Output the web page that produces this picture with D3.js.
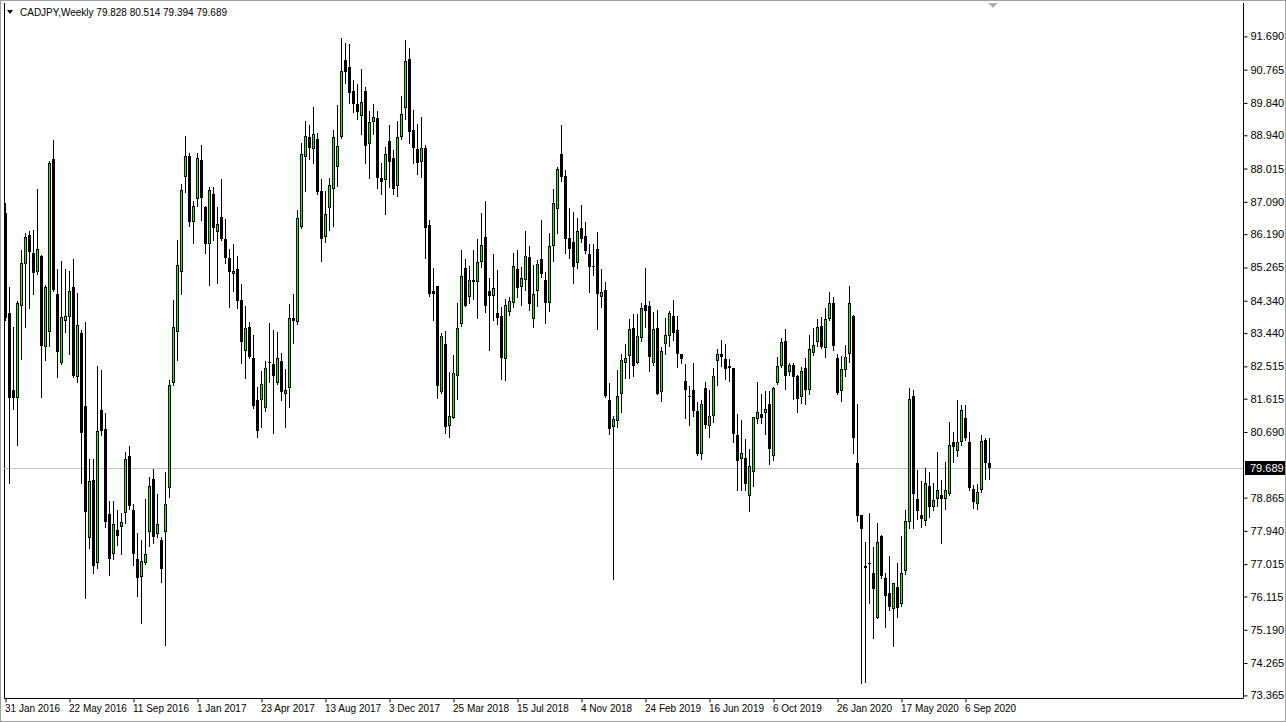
<!DOCTYPE html>
<html><head><meta charset="utf-8">
<script src="https://cdn.jsdelivr.net/npm/d3@7"></script>
<style>
html,body{margin:0;padding:0;background:#fff;}
svg{display:block;font-family:"Liberation Sans",Arial,sans-serif;}
</style></head><body><svg id="c" width="1286" height="722"></svg>
<script>
const symbol = "CADJPY,Weekly";
const firstWeek = "31 Jan 2016";
const open = [86.77,84.00,81.87,81.64,84.20,85.35,86.16,85.66,85.13,85.58,
83.04,83.48,88.27,84.54,82.60,83.78,83.89,84.72,82.23,83.45,
81.41,77.73,79.35,77.06,81.30,80.77,78.41,77.31,77.96,78.04,
78.43,80.02,78.52,77.15,76.65,77.06,77.90,79.38,77.84,77.68,
77.90,79.12,82.06,83.48,85.14,87.79,88.36,86.53,87.16,88.25,
86.95,85.93,87.31,86.24,86.66,86.07,85.54,85.09,85.22,84.36,
82.95,83.60,82.76,81.58,81.58,81.37,82.61,82.57,82.04,82.66,
81.74,81.90,83.85,83.75,86.38,88.33,88.88,88.56,88.83,87.39,
86.10,86.91,87.46,88.06,88.90,91.03,90.83,90.17,89.81,89.48,
90.17,88.69,89.30,89.41,87.74,87.71,88.78,88.30,87.54,88.90,
89.70,91.05,89.09,88.56,88.19,88.58,86.44,84.61,84.75,81.79,
83.15,80.85,81.08,82.25,83.68,85.24,84.43,84.91,84.87,85.42,
86.12,84.61,84.48,84.00,83.91,82.71,84.03,84.27,85.22,84.73,
84.93,85.56,83.82,84.62,85.49,84.91,84.28,85.87,86.88,88.42,
87.81,86.09,85.96,85.39,86.35,86.14,85.64,85.30,85.79,84.43,
84.65,81.58,80.82,81.00,81.74,82.62,82.81,83.57,82.62,83.29,
84.22,84.19,82.62,83.57,81.81,83.13,83.36,83.91,83.52,82.85,
82.10,81.70,81.85,81.27,80.07,81.90,80.86,81.14,82.67,82.87,
82.72,82.46,82.46,80.60,79.93,79.96,78.91,79.57,81.05,81.19,
81.21,81.47,80.02,82.04,82.52,83.22,82.35,82.55,82.24,81.67,
82.46,81.87,82.89,83.18,83.64,83.02,83.82,84.28,82.74,81.83,
82.41,82.85,83.91,79.84,78.38,76.97,77.04,76.76,75.53,77.79,
76.62,76.20,75.76,76.37,75.92,76.82,78.19,81.69,78.82,78.38,
78.21,79.19,78.61,78.82,78.94,78.82,78.96,80.42,80.17,80.40,
81.09,80.40,79.10,78.68,79.07,80.48,79.828];
const high = [87.05,84.73,83.61,84.33,85.75,86.23,86.28,86.30,87.46,85.60,
84.77,88.23,88.81,85.21,85.44,85.21,85.16,85.50,84.56,83.52,
83.75,79.93,79.93,82.52,82.41,81.21,78.77,78.77,78.52,78.43,
80.14,80.30,78.68,77.87,77.70,78.84,79.44,79.66,78.96,77.77,
79.58,82.13,84.36,86.03,87.58,88.92,88.44,87.12,88.44,88.67,
86.97,87.49,87.50,86.95,87.72,86.60,85.79,85.91,85.58,84.80,
84.19,83.74,83.38,81.93,82.38,82.66,83.71,83.52,83.46,82.89,
82.44,84.25,84.54,86.86,88.72,89.34,89.24,89.72,88.99,87.72,
87.39,87.76,89.08,89.78,91.64,91.50,91.48,90.48,90.36,90.77,
90.29,89.61,89.80,89.61,88.18,88.62,89.24,88.53,89.34,90.04,
91.59,91.38,89.64,89.25,89.44,88.67,86.58,85.24,84.76,83.45,
83.50,82.36,82.83,84.28,85.75,85.49,85.31,85.75,86.05,86.79,
87.11,84.96,85.64,85.19,84.17,84.38,84.45,85.66,85.75,85.28,
86.28,85.86,85.33,85.47,86.58,85.13,86.21,87.44,88.06,89.23,
87.97,86.91,86.81,86.63,87.00,86.52,85.93,85.91,86.24,85.22,
84.85,82.04,81.13,82.41,82.87,83.15,83.83,83.97,83.97,84.28,
85.24,84.33,84.03,84.08,83.04,83.87,84.06,84.36,83.91,82.86,
82.58,81.97,82.60,81.53,81.58,82.07,81.85,82.46,83.01,83.25,
83.13,82.72,82.47,81.19,81.02,80.49,80.23,81.11,82.09,81.74,
81.83,81.83,81.93,82.78,83.29,83.54,82.60,82.61,82.27,82.49,
82.74,83.38,83.57,83.82,83.89,84.14,84.57,84.45,82.86,82.80,
83.11,84.75,83.94,81.47,78.39,77.62,78.45,77.50,78.15,77.82,
76.78,77.24,76.49,77.04,77.79,78.52,81.92,81.85,79.63,79.32,
79.68,79.58,79.26,80.14,79.35,79.86,80.98,80.70,81.58,81.44,
81.44,80.68,79.21,79.23,80.61,80.51,80.514];
const low = [83.80,79.26,81.34,80.32,82.72,83.61,84.14,84.52,85.08,81.67,
82.69,83.08,84.62,82.22,82.58,83.48,82.87,82.22,82.09,79.28,
76.06,77.45,76.76,76.90,80.60,78.05,76.71,77.17,77.54,77.31,
78.16,78.54,76.99,76.13,75.37,77.03,77.52,77.59,77.76,76.51,
74.76,78.89,81.99,82.69,84.52,87.37,86.41,85.95,86.97,86.58,
85.66,84.77,86.03,84.84,86.03,85.39,84.17,84.62,84.15,82.61,
82.20,82.74,81.36,80.56,80.83,81.28,82.07,80.65,82.02,81.58,
80.83,81.39,83.17,83.69,86.36,87.40,88.27,88.18,87.30,85.45,
85.98,86.32,86.42,87.54,88.87,90.40,89.83,89.59,89.38,88.97,
88.18,87.76,88.97,87.48,87.32,86.74,87.49,87.32,87.26,88.85,
89.38,88.73,88.18,87.86,87.79,85.54,84.47,83.80,81.64,81.78,
80.65,80.54,81.07,81.62,83.64,84.19,84.28,84.40,83.87,85.28,
84.02,82.97,83.80,83.69,82.16,82.13,83.94,84.17,84.45,84.22,
84.64,84.08,83.61,84.19,85.01,83.73,84.06,85.44,86.21,87.68,
85.67,85.54,84.84,85.26,85.98,85.66,84.59,85.05,83.54,84.17,
81.65,80.63,76.60,80.83,81.25,82.20,82.18,82.25,82.60,83.23,
83.61,82.39,82.55,81.75,81.56,82.86,83.08,83.26,82.49,82.60,
81.08,80.88,81.14,80.06,79.94,80.81,80.56,80.97,81.99,82.52,
82.16,82.11,80.42,79.09,79.09,79.09,78.49,79.19,80.93,80.93,
80.63,79.79,79.91,82.03,82.50,81.88,82.27,81.60,81.25,81.50,
81.48,81.76,82.83,83.09,83.02,82.78,83.80,82.97,81.74,81.56,
82.25,82.64,80.11,78.22,73.72,73.74,75.94,74.95,75.52,76.62,
75.27,75.74,74.74,75.55,75.86,76.73,78.01,78.01,78.26,78.05,
78.10,78.32,78.52,78.64,77.59,78.55,78.93,79.86,80.03,80.34,
80.48,79.09,78.57,78.55,79.03,79.37,79.394];
const close = [83.85,81.64,81.64,84.29,85.38,86.10,85.70,85.12,85.78,83.09,
84.71,88.16,84.64,82.92,83.88,83.91,84.60,82.24,83.66,80.67,
78.47,79.32,76.97,80.71,80.71,78.19,77.17,78.12,77.80,78.18,
79.93,78.63,77.31,76.62,77.10,77.31,79.20,77.76,78.12,76.87,
78.68,82.01,83.60,85.32,87.41,88.36,86.53,86.97,88.30,87.20,
85.93,87.41,86.37,86.46,86.05,85.53,85.14,85.16,84.34,83.18,
83.57,82.78,81.42,80.72,82.02,82.46,82.63,82.25,82.74,81.81,
81.85,83.85,83.78,86.63,88.41,88.93,88.58,88.97,87.37,86.05,
86.74,87.57,88.88,88.64,90.74,90.71,90.12,89.80,89.59,89.86,
88.65,89.30,89.44,87.74,87.65,88.41,88.20,87.44,88.90,89.52,
91.00,89.04,88.60,88.16,88.58,86.37,84.52,84.54,81.97,83.36,
80.82,81.13,82.32,83.57,85.02,84.20,84.91,84.86,85.41,85.89,
84.20,84.48,84.68,83.87,82.75,84.22,84.33,85.30,84.68,84.96,
85.58,84.24,84.54,85.35,85.07,84.27,85.87,87.07,87.99,87.79,
86.07,85.79,85.28,86.28,86.05,85.72,85.28,85.29,84.52,84.59,
81.69,80.76,81.04,81.69,82.69,82.76,83.54,82.53,83.36,84.15,
84.06,82.78,83.54,81.76,82.94,83.38,83.99,83.45,82.86,82.72,
81.85,81.69,81.27,80.07,81.46,80.88,81.13,82.24,82.87,82.78,
82.43,82.52,80.63,79.89,80.10,79.23,79.74,81.10,81.25,81.07,
81.34,80.21,81.90,82.52,83.18,82.25,82.55,82.22,81.62,82.38,
81.87,82.99,83.11,83.60,83.06,83.82,84.27,83.09,81.78,82.43,
82.78,84.27,80.53,78.36,77.98,76.92,77.03,76.31,77.62,76.68,
76.13,75.83,76.48,75.80,76.78,78.21,81.62,78.96,78.50,78.26,
79.26,78.61,78.80,79.08,78.82,79.09,80.33,80.26,80.40,81.30,
80.51,79.12,78.75,79.03,80.45,79.82,79.689];
const yTickValues = [91.690,90.765,89.840,88.940,88.015,87.090,86.190,85.265,84.340,83.440,82.515,81.615,80.690,78.865,77.940,77.015,76.115,75.190,74.265,73.365];
const xTickLabels = ["31 Jan 2016","22 May 2016","11 Sep 2016","1 Jan 2017","23 Apr 2017","13 Aug 2017","3 Dec 2017","25 Mar 2018","15 Jul 2018","4 Nov 2018","24 Feb 2019","16 Jun 2019","6 Oct 2019","26 Jan 2020","17 May 2020","6 Sep 2020"];

const n = Math.min(open.length, high.length, low.length, close.length);
const bars = d3.range(n).map(i => ({i, o:open[i], h:high[i], l:low[i], c:close[i]}));
const last = bars[n-1];
const fmt = d3.format(".3f");

const svg = d3.select("#c");
const plot = {left:4, right:1243, top:3, bottom:698};

const parse = d3.timeParse("%d %b %Y");
const t0 = parse(firstWeek);
const x = d3.scaleLinear().domain([0, 246]).range([5, 989]);
const y = d3.scaleLinear().domain([73.365, 91.690]).range([695.4, 36.4]);

// outer frame
svg.append("rect").attr("x",0.5).attr("y",0.5).attr("width",1285).attr("height",721)
  .attr("fill","#fff").attr("stroke","#a0a0a0");
svg.append("line").attr("x1",plot.left+0.5).attr("x2",plot.left+0.5).attr("y1",plot.top).attr("y2",plot.bottom)
  .attr("stroke","#000");

// last price line
const py = Math.round(y(last.c)) + 0.5;
svg.append("line").attr("x1",plot.left).attr("x2",plot.right).attr("y1",py).attr("y2",py)
  .attr("stroke","#c0c0c0").attr("stroke-width",1);

// candles
const g = svg.append("g").attr("shape-rendering","crispEdges");
const cand = g.selectAll("g.c").data(bars).join("g").attr("class","c");
cand.append("line")
  .attr("x1", d => Math.round(x(d.i)) + 0.5).attr("x2", d => Math.round(x(d.i)) + 0.5)
  .attr("y1", d => Math.round(y(d.h))).attr("y2", d => Math.round(y(d.l)) + 1)
  .attr("stroke","#000");
cand.each(function(d){
  const cx = Math.round(x(d.i));
  const top = Math.round(y(Math.max(d.o,d.c)));
  const bot = Math.round(y(Math.min(d.o,d.c)));
  const hgt = Math.max(1, bot - top);
  const sel = d3.select(this);
  if (d.c >= d.o) {
    if (hgt >= 2) {
      sel.append("rect").attr("x", cx-0.5).attr("y", top+0.5).attr("width",2).attr("height",hgt-1)
        .attr("fill","#00ff00").attr("stroke","#000").attr("stroke-width",1);
    } else {
      sel.append("rect").attr("x", cx-1).attr("y", top).attr("width",3).attr("height",1).attr("fill","#000");
    }
  } else {
    sel.append("rect").attr("x", cx-1).attr("y", top).attr("width",3).attr("height",hgt).attr("fill","#000");
  }
});

// right axis
const yAxis = d3.axisRight(y).tickValues(yTickValues).tickSize(4).tickPadding(3).tickFormat(fmt);
const ya = svg.append("g").attr("transform",`translate(${plot.right+0.5},0)`).call(yAxis);
ya.select(".domain").attr("d",`M0,${plot.top}V${plot.bottom}`).attr("stroke","#000");
ya.selectAll(".tick line").attr("stroke","#000");
ya.selectAll("text").attr("font-size",11).attr("fill","#000").attr("font-family","Liberation Sans, Arial, sans-serif");

// bottom axis
const xTickIdx = xTickLabels.map(s => d3.timeWeek.count(t0, parse(s)));
const xAxis = d3.axisBottom(x).tickValues(xTickIdx).tickSize(4).tickFormat((d,k) => xTickLabels[k]);
const xa = svg.append("g").attr("transform",`translate(0.5,${plot.bottom+0.5})`).call(xAxis);
xa.select(".domain").attr("d",`M${plot.left-0.5},0H${plot.right}`).attr("stroke","#000");
xa.selectAll(".tick line").attr("stroke","#000");
xa.selectAll("text").attr("font-size",10).attr("fill","#000").attr("text-anchor","start")
  .attr("x",-1).attr("dy","0.6em").attr("font-family","Liberation Sans, Arial, sans-serif");

// last price label
const lbl = svg.append("g").attr("transform",`translate(${plot.right+2},${py-0.5})`);
lbl.append("rect").attr("x",0).attr("y",-7).attr("width",40).attr("height",14).attr("fill","#000");
lbl.append("text").attr("x",5).attr("y",4).attr("font-size",11).attr("fill","#fff").text(fmt(last.c));

// header
svg.append("path").attr("d","M7,10L13,10L10,14Z").attr("fill","#000");
svg.append("text").attr("x",20).attr("y",16).attr("font-size",10).attr("fill","#000")
  .text(`${symbol}  ${fmt(last.o)} ${fmt(last.h)} ${fmt(last.l)} ${fmt(last.c)}`);

// chart shift marker
svg.append("path").attr("d","M988,3L998,3L993,8Z").attr("fill","#b0b0b0");
</script></body></html>
